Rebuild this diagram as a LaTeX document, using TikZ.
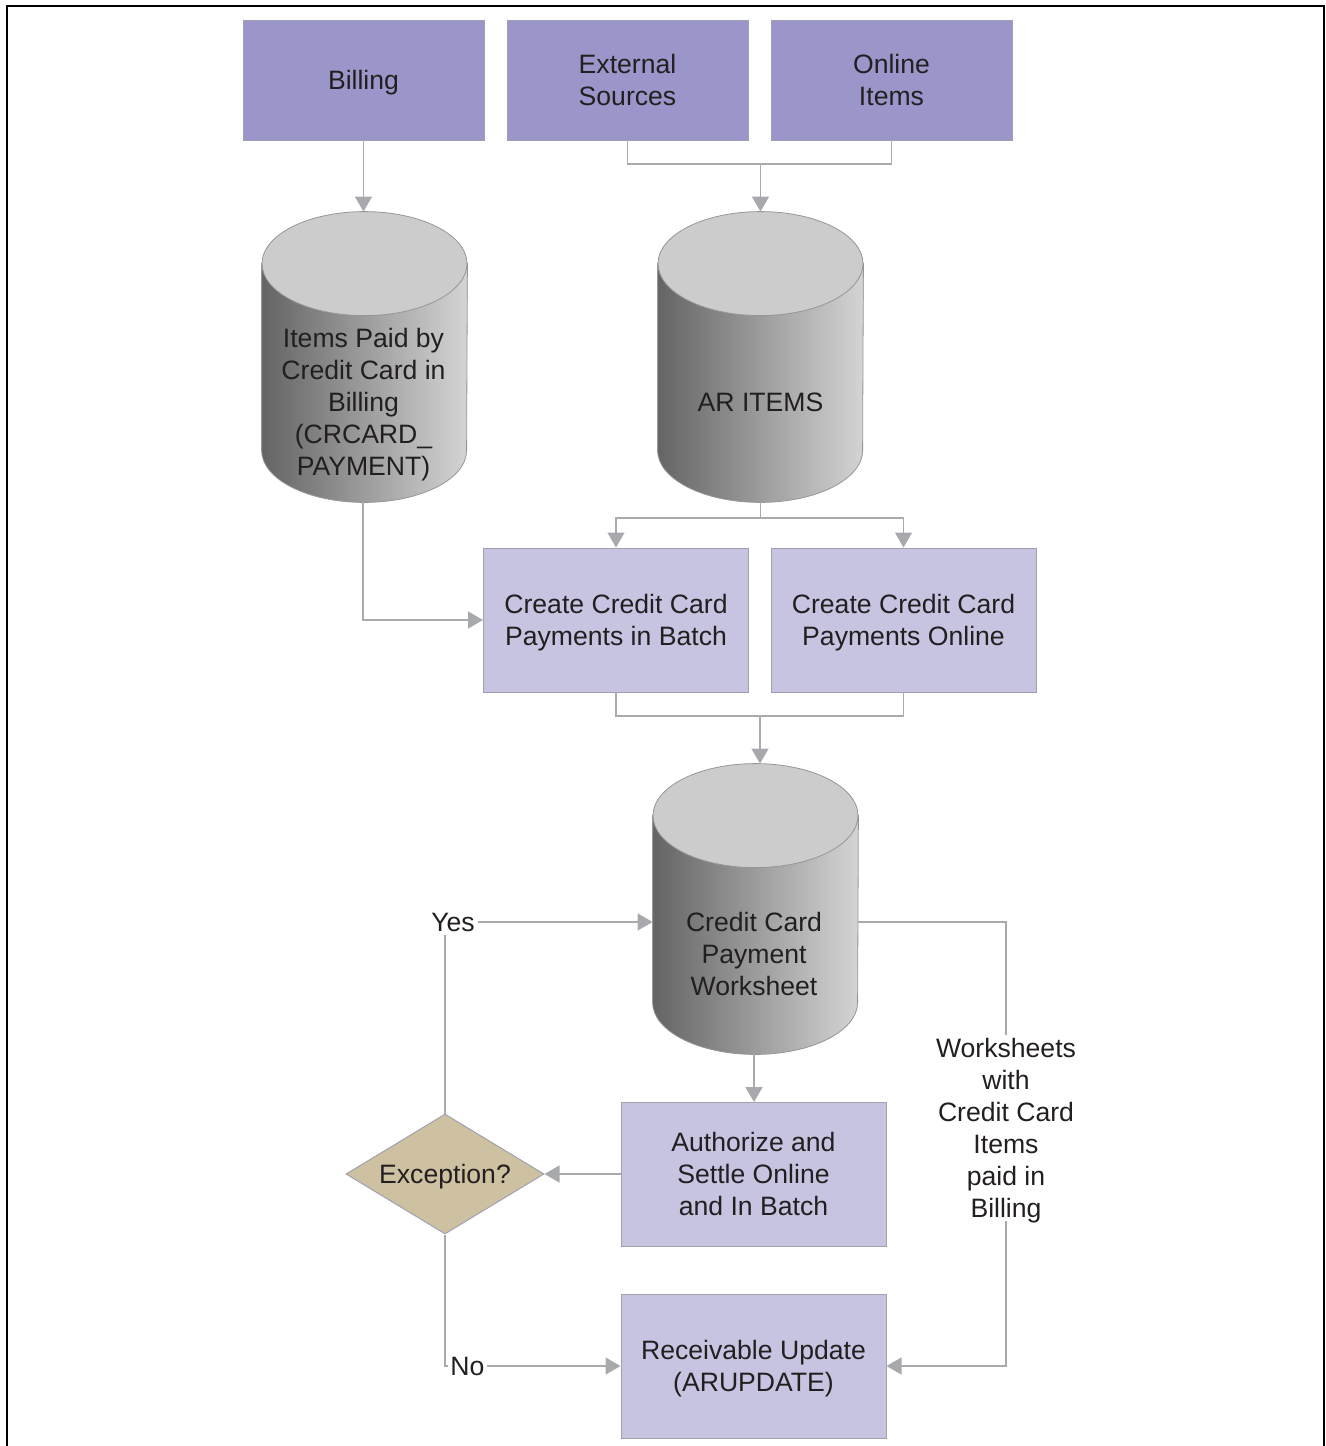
\documentclass[tikz,border=0pt]{standalone}
\usepackage{fontspec}
\setmainfont{Liberation Sans}
\usetikzlibrary{arrows.meta,shapes.geometric}
\definecolor{topc}{RGB}{155,150,202}
\definecolor{lightc}{RGB}{198,196,225}
\definecolor{diac}{RGB}{205,193,161}
\definecolor{edgec}{RGB}{160,160,176}
\definecolor{linec}{RGB}{170,170,172}
\definecolor{arrowc}{RGB}{167,169,172}
\definecolor{cylL}{RGB}{100,100,100}
\definecolor{cylR}{RGB}{212,212,212}
\definecolor{cylT}{RGB}{204,204,204}
\definecolor{cylE}{RGB}{150,150,150}
\definecolor{txtc}{RGB}{35,31,32}
\newcommand\cylshape[1]{%
  \path[left color=cylL, right color=cylR, draw=cylE, line width=0.4pt]
    ([yshift=-26pt]#1.north west) -- ([yshift=26pt]#1.south west)
    arc[start angle=180, end angle=360, x radius=51.25pt, y radius=26pt]
    -- ([yshift=-26pt]#1.north east) -- cycle;
  \path[fill=cylT, draw=cylE, line width=0.4pt]
    ([yshift=-26pt]#1.north) ellipse[x radius=51.25pt, y radius=26pt];
}
\begin{document}
\begin{tikzpicture}[x=0.5pt,y=-0.5pt,
  font=\fontsize{13.3}{16}\selectfont, text=txtc,
  topbox/.style={rectangle, fill=topc, draw=edgec, line width=0.5pt, minimum width=120.5pt, minimum height=60pt, align=center, inner sep=0pt, text depth=0pt},
  lbox/.style={rectangle, fill=lightc, draw=edgec, line width=0.5pt, minimum width=132.5pt, minimum height=72pt, align=center, inner sep=0pt, text depth=0pt},
  cylbox/.style={rectangle, minimum width=102.5pt, minimum height=145pt, inner sep=0pt},
  ctext/.style={align=center, inner sep=0pt, text depth=0pt},
  lbl/.style={align=center, fill=white, inner sep=1.5pt, text depth=0pt},
  conn/.style={draw=linec, line width=0.75pt},
  arr/.style={conn, -{Triangle[length=7.5pt,width=8.5pt,fill=arrowc,color=arrowc]}}
]
\useasboundingbox (0,0) rectangle (1326,1446);
\draw[line width=1pt] (7,1446) -- (7,6) -- (1324,6) -- (1324,1446);

% top boxes
\node[topbox] (bill) at (363.5,80) {Billing};
\node[topbox] (ext) at (627.5,80) {External\\Sources};
\node[topbox] (onl) at (891.5,80) {Online\\Items};

% cylinders
\node[cylbox] (c1) at (364.5,357) {};
\node[cylbox] (c2) at (760.5,357) {};
\node[cylbox] (c3) at (755.5,909) {};
\cylshape{c1}
\cylshape{c2}
\cylshape{c3}
\node[ctext] (c1t) at (363.5,402) {Items Paid by\\Credit Card in\\Billing\\(CRCARD\_\\PAYMENT)};
\node[ctext] (c2t) at (760.5,402) {AR ITEMS};
\node[ctext] (c3t) at (754,954) {Credit Card\\Payment\\Worksheet};

% process boxes
\node[lbox] (batch) at (616,620) {Create Credit Card\\Payments in Batch};
\node[lbox] (onlpay) at (903.5,620) {Create Credit Card\\Payments Online};
\node[lbox] (auth) at (753.5,1174) {Authorize and\\Settle Online\\and In Batch};
\node[lbox] (recv) at (753.5,1366) {Receivable Update\\(ARUPDATE)};
\node[diamond, fill=diac, draw=edgec, line width=0.5pt, minimum width=99pt, minimum height=60pt, inner sep=0pt, aspect=1.65, text depth=0pt] (dia) at (445,1174) {Exception?};

% connectors
\draw[arr] (bill.south) -- (bill.south |- c1.north);
\coordinate (j1) at (760.5,164);
\draw[conn] (ext.south) |- (j1) -| (onl.south);
\draw[arr] (j1) -- (c2.north);

\coordinate (s1) at (760.5,518);
\draw[conn] (c2.south) -- (s1);
\draw[arr] (s1) -| (batch.north);
\draw[arr] (s1) -| (onlpay.north);

\draw[arr] (363,502) |- (batch.west);

\coordinate (j2) at (760,716);
\draw[conn] (batch.south) |- (j2) -| (onlpay.south);
\draw[arr] (j2) -- (j2 |- c3.north);

\draw[arr] (754,1054) -- (754,1102);
\draw[arr] (auth.west) -- (dia.east);

\node[lbl] (yes) at (453,922) {Yes};
\draw[conn] (dia.north) -- (dia.north |- yes.south);
\draw[arr] (yes.east) -- (yes.east -| c3.west);

\node[lbl, anchor=west, inner sep=1pt] (no) at (448,1366) {No};
\draw[conn] (dia.south) |- (no.west);
\draw[arr] (no.east) -- (no.east -| recv.west);

\node[lbl] (ws) at (1006,1128) {Worksheets\\with\\Credit Card\\Items\\paid in\\Billing};
\coordinate (r1) at (858,922);
\draw[conn] (r1) -| (ws.north);
\draw[arr] (ws.south) |- (recv.east);
\end{tikzpicture}
\end{document}
